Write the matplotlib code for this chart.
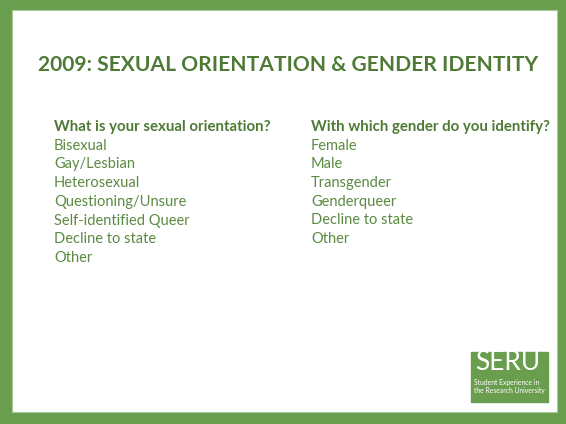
import matplotlib.pyplot as plt
from matplotlib.patches import Rectangle

title = "2009: SEXUAL ORIENTATION & GENDER IDENTITY"
left_header = "What is your sexual orientation?"
left_items = ["Bisexual", "Gay/Lesbian", "Heterosexual", "Questioning/Unsure",
              "Self-identified Queer", "Decline to state", "Other"]
right_header = "With which gender do you identify?"
right_items = ["Female", "Male", "Transgender", "Genderqueer", "Decline to state", "Other"]

green = "#6a9e4f"
text_dark = "#4e7a36"
text_light = "#5b8b42"

fig = plt.figure(figsize=(5.66, 4.24), dpi=100)
ax = fig.add_axes([0, 0, 1, 1])
ax.set_xlim(0, 566)
ax.set_ylim(424, 0)
ax.axis("off")

# frame
ax.add_patch(Rectangle((0, 0), 566, 424, color=green, zorder=0))
ax.add_patch(Rectangle((12, 10), 545, 402, facecolor="white", edgecolor="#a9c99a", lw=0.8, zorder=1))

ax.text(38, 65, title, fontfamily="Lato", fontweight="bold", fontsize=15.1,
        color=text_dark, va="center", ha="left", zorder=2)

line_gap = 18.7
for x0, header, items in [(54, left_header, left_items), (311, right_header, right_items)]:
    ax.text(x0, 127, header, fontfamily="Lato", fontweight="bold", fontsize=10.8,
            color=text_dark, va="center", ha="left", zorder=2)
    for i, item in enumerate(items):
        ax.text(x0, 127 + line_gap * (i + 1), item, fontfamily="Lato", fontsize=10.5,
                color=text_light, va="center", ha="left", zorder=2)

# logo
ax.add_patch(Rectangle((471, 352), 77, 50, color=green, zorder=2))
ax.text(508, 363, "SERU", fontfamily="Lato", fontsize=19, color="white",
        ha="center", va="center", zorder=3)
ax.text(474, 383, "Student Experience in", fontfamily="Lato", fontsize=4.9,
        color="white", ha="left", va="center", zorder=3)
ax.text(474, 391, "the Research University", fontfamily="Lato", fontsize=4.9,
        color="white", ha="left", va="center", zorder=3)

fig.savefig("out.png", dpi=100)
